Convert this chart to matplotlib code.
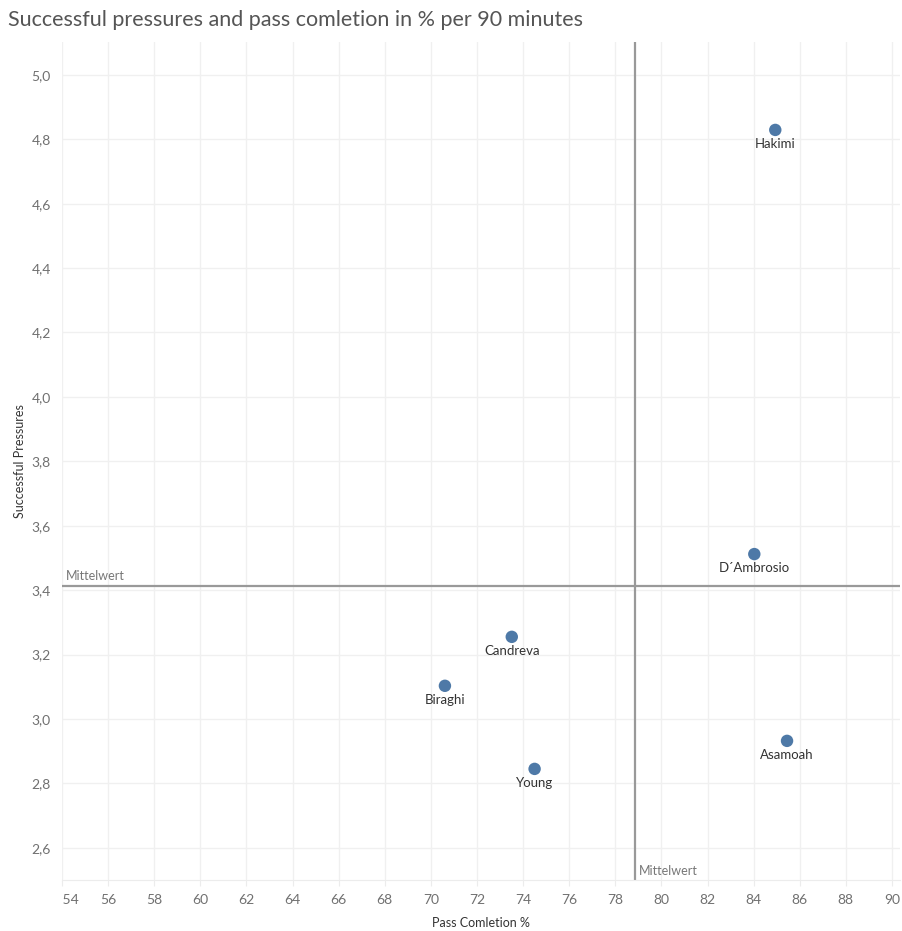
import numpy as np
import matplotlib
matplotlib.use("Agg")
import matplotlib.pyplot as plt
from matplotlib.ticker import FuncFormatter, MultipleLocator

# --- data ---
players = ["Hakimi", "D\u00b4Ambrosio", "Candreva", "Biraghi", "Young", "Asamoah"]
pass_completion = [84.94, 84.03, 73.51, 70.61, 74.50, 85.45]
pressures = [4.829, 3.512, 3.255, 3.103, 2.845, 2.932]

mean_x = np.mean(pass_completion)
mean_y = np.mean(pressures)

plt.rcParams['font.family'] = ['Lato', 'DejaVu Sans']

fig = plt.figure(figsize=(9.03, 9.31), dpi=100)
ax = fig.add_axes([62 / 903, 51 / 931, 838 / 903, 838 / 931])

ax.set_xlim(54, 90.35)
ax.set_ylim(2.5, 5.102)

ax.xaxis.set_major_locator(MultipleLocator(2))
ax.yaxis.set_major_locator(MultipleLocator(0.2))
ax.yaxis.set_major_formatter(FuncFormatter(lambda v, p: f"{v:.1f}".replace(".", ",")))
# first label pushed right so it is not clipped at the edge (like the original)
ax.xaxis.set_major_formatter(FuncFormatter(lambda v, p: "     54" if round(v) == 54 else f"{v:.0f}"))

ax.grid(True, color="#f0f0f0", linewidth=1)
ax.set_axisbelow(True)
for s in ["top", "right", "left"]:
    ax.spines[s].set_visible(False)
ax.spines["bottom"].set_color("#ececec")
ax.tick_params(axis="both", length=0, labelsize=10, labelcolor="#707070", pad=8)
ax.tick_params(axis="x", length=4, color="#ececec", pad=6)

# mean reference lines
ax.axvline(mean_x, color="#999999", linewidth=1.6, zorder=2)
ax.axhline(mean_y, color="#999999", linewidth=1.6, zorder=2)
ax.annotate("Mittelwert", (54, mean_y), xytext=(3, 3), textcoords="offset points",
            fontsize=9, color="#777777", va="bottom", ha="left")
ax.annotate("Mittelwert", (mean_x, 2.5), xytext=(3, 2), textcoords="offset points",
            fontsize=9, color="#777777", va="bottom", ha="left")

# points and labels
ax.scatter(pass_completion, pressures, s=80, color="#4e79a7", zorder=3, edgecolors="none")
for name, x, y in zip(players, pass_completion, pressures):
    ax.annotate(name, (x, y), xytext=(0, -6), textcoords="offset points",
                ha="center", va="top", fontsize=9.5, color="#333333")

ax.set_xlabel("Pass Comletion %", fontsize=9, color="#333333", labelpad=8)
ax.set_ylabel("Successful Pressures", fontsize=9, color="#333333", labelpad=4)

fig.text(8 / 903, 1 - 20 / 931, "Successful pressures and pass comletion in % per 90 minutes",
         fontsize=15.5, color="#555555", va="center", ha="left")

fig.savefig("out.png", dpi=100, facecolor="white")
